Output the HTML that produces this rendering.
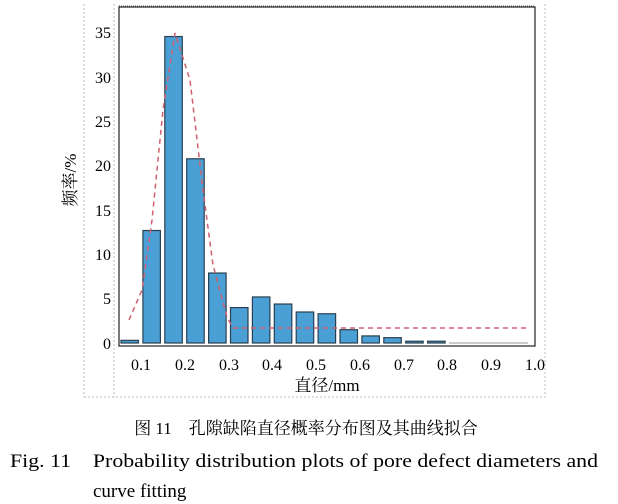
<!DOCTYPE html>
<html><head><meta charset="utf-8"><style>
body{margin:0;background:#fff;width:618px;height:504px;overflow:hidden}
svg{position:absolute;left:0;top:0}
</style></head><body>
<svg width="618" height="504" xmlns="http://www.w3.org/2000/svg" font-family="Liberation Serif, Noto Serif CJK SC, serif">
<line x1="84" y1="4" x2="84" y2="397" stroke="#bbb" stroke-dasharray="2,2"/>
<line x1="114" y1="4" x2="114" y2="397" stroke="#bbb" stroke-dasharray="2,2"/>
<line x1="545" y1="4" x2="545" y2="397" stroke="#bbb" stroke-dasharray="2,2"/>
<line x1="84" y1="397" x2="545" y2="397" stroke="#bbb" stroke-dasharray="2,2"/>
<line x1="119" y1="6" x2="535" y2="6" stroke="#555" stroke-dasharray="1,1"/>
<rect x="119" y="7" width="416" height="339" fill="none" stroke="#222" stroke-width="1.2"/>
<g fill="#4a9fd4" stroke="#2a3f50" stroke-width="1.2" id="bars"></g>
<line x1="449" y1="343" x2="528" y2="343" stroke="#bbb" stroke-width="1.5"/>
<polyline points="129,320 142,290 152,220 163,110 175,33 190,80 203,190 213,265 227,317 233,328 527,328" fill="none" stroke="#d06070" stroke-width="1.5" stroke-dasharray="5,4"/>
<g font-size="16" text-anchor="end">
<text x="111" y="349">0</text><text x="111" y="304">5</text><text x="111" y="260">10</text><text x="111" y="216">15</text><text x="111" y="171">20</text><text x="111" y="127">25</text><text x="111" y="83">30</text><text x="111" y="38">35</text>
</g>
<g font-size="16" text-anchor="middle">
<text x="141" y="370">0.1</text><text x="185" y="370">0.2</text><text x="229" y="370">0.3</text><text x="272" y="370">0.4</text><text x="316" y="370">0.5</text><text x="360" y="370">0.6</text><text x="404" y="370">0.7</text><text x="447" y="370">0.8</text><text x="491" y="370">0.9</text><text x="535" y="370">1.0</text>
<text x="327" y="391" font-size="17">直径/mm</text>
<text x="0" y="0" font-size="17" transform="translate(76,180) rotate(-90)">频率/%</text>
<text x="306" y="434" font-size="17">图 11　孔隙缺陷直径概率分布图及其曲线拟合</text>
</g>
<text x="10" y="467" font-size="19" textLength="588" lengthAdjust="spacingAndGlyphs">Fig. 11　Probability distribution plots of pore defect diameters and</text>
<text x="93" y="497" font-size="19">curve fitting</text>
</svg>
<script>
var v=[0.3,12.7,34.6,20.8,7.9,4,5.2,4.4,3.5,3.3,1.5,0.8,0.6,0.2,0.2];
var g=document.getElementById('bars'),s='';
v.forEach(function(h,i){var x=121+i*21.9,hp=h*8.857;s+='<rect x="'+x+'" y="'+(343-hp)+'" width="17.5" height="'+hp+'"/>';});
g.innerHTML=s;
</script>
</body></html>
